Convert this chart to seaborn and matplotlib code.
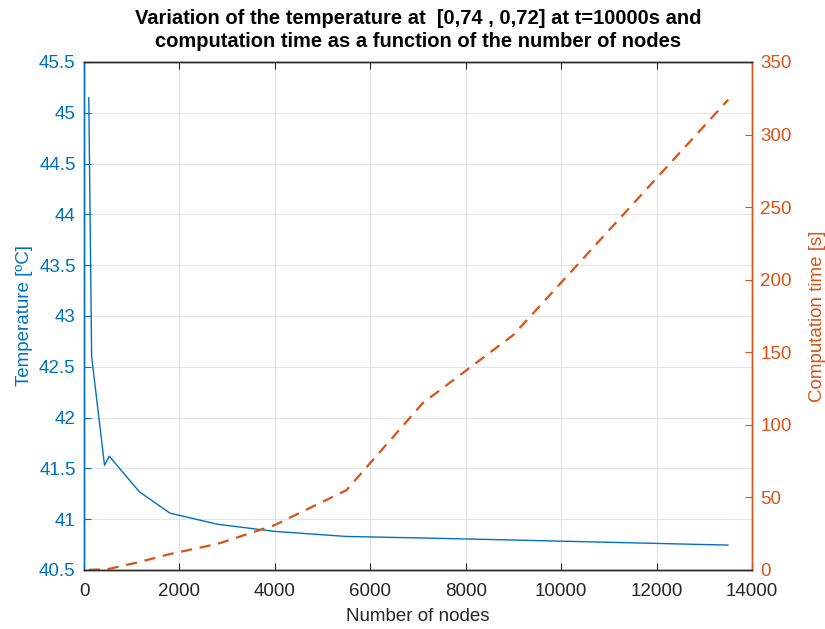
import matplotlib
matplotlib.use("Agg")
import matplotlib.pyplot as plt
import seaborn as sns
import pandas as pd
from matplotlib.ticker import FuncFormatter

# Data
nodes = [100, 160, 430, 530, 1160, 1800, 2800, 4000, 5500, 7100, 9000, 13500]
temperature = [45.15, 42.6, 41.53, 41.62, 41.27, 41.06, 40.95, 40.88, 40.83, 40.815, 40.795, 40.745]
comp_time = [0.0, 0.2, 0.5, 0.8, 5.5, 11.0, 18.0, 31.0, 55.0, 115.0, 162.0, 324.0]

x_ticks = [0, 2000, 4000, 6000, 8000, 10000, 12000, 14000]
left_ticks = [40.5, 41, 41.5, 42, 42.5, 43, 43.5, 44, 44.5, 45, 45.5]
right_ticks = [0, 50, 100, 150, 200, 250, 300, 350]

title = "Variation of the temperature at  [0,74 , 0,72] at t=10000s and\ncomputation time as a function of the number of nodes"

df = pd.DataFrame({"nodes": nodes, "temperature": temperature, "time": comp_time})

sns.set_style("ticks")
plt.rcParams["font.family"] = ["Liberation Sans", "DejaVu Sans"]

BLUE = "#0072BD"
ORANGE = "#D95319"
DARK = "#262626"

fig = plt.figure(figsize=(8.25, 6.29), dpi=100)
ax = fig.add_axes([84/825, 1-570/629, (752-84)/825, (570-62)/629])
ax2 = ax.twinx()

sns.lineplot(data=df, x="nodes", y="temperature", ax=ax, color=BLUE, lw=1.0,
             estimator=None, sort=False)
sns.lineplot(data=df, x="nodes", y="time", ax=ax2, color=ORANGE, lw=1.6,
             estimator=None, sort=False)
ax2.lines[0].set_linestyle((0, (5, 3.5)))

ax.set_xlim(0, 14000)
ax.set_ylim(40.5, 45.5)
ax2.set_ylim(0, 350)
ax.set_xticks(x_ticks)
ax.set_yticks(left_ticks)
ax2.set_yticks(right_ticks)
ax.yaxis.set_major_formatter(FuncFormatter(lambda v, p: f"{v:g}"))
ax.xaxis.set_major_formatter(FuncFormatter(lambda v, p: f"{v:g}"))

fs = 13.5
ax.tick_params(axis="x", direction="in", length=5, colors=DARK, labelsize=fs, top=True, pad=9)
ax.tick_params(axis="y", direction="in", length=5, colors=BLUE, labelsize=fs, pad=6)
ax2.tick_params(axis="y", direction="in", length=5, colors=ORANGE, labelsize=fs, pad=6)

ax.grid(True, color="#e3e3e3", lw=0.8)
ax.set_axisbelow(True)

for s in ["top", "bottom"]:
    ax.spines[s].set_color(DARK)
    ax2.spines[s].set_color(DARK)
ax.spines["left"].set_color(BLUE)
ax2.spines["left"].set_color(BLUE)
ax.spines["right"].set_color(ORANGE)
ax2.spines["right"].set_color(ORANGE)
for a in (ax, ax2):
    for s in a.spines.values():
        s.set_linewidth(1.0)

ax.set_xlabel("Number of nodes", fontsize=fs, color=DARK, labelpad=6)
ax.set_ylabel("Temperature [ºC]", fontsize=fs, color=BLUE, labelpad=4)
ax2.set_ylabel("Computation time [s]", fontsize=fs, color=ORANGE, labelpad=12)
ax.set_title(title, fontsize=14.5, fontweight="bold", color="black", pad=11, linespacing=1.25)

fig.savefig("out.png", dpi=100)
